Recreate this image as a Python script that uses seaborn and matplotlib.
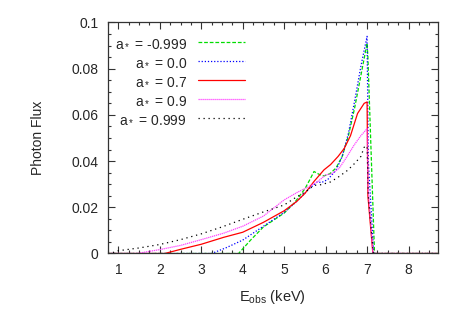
import numpy as np
import pandas as pd
import matplotlib
matplotlib.use('Agg')
import matplotlib.pyplot as plt
import seaborn as sns
from matplotlib.ticker import MultipleLocator

# spectra (E_obs in keV, photon flux)
e_m0999 = [0.75, 3.9, 4.2, 4.5, 4.75, 5.0, 5.25, 5.5, 5.62, 5.72, 5.85, 5.96, 6.1, 6.25, 6.4, 6.55, 6.7, 6.85, 7.0, 7.02, 7.18, 8.7]
f_m0999 = [0, 0, 0.006, 0.0115, 0.0145, 0.0175, 0.022, 0.028, 0.032, 0.0355, 0.0342, 0.0336, 0.0345, 0.037, 0.042, 0.051, 0.063, 0.077, 0.091, 0.085, 0, 0]

e_00 = [0.75, 3.25, 3.6, 4.0, 4.5, 5.0, 5.3, 5.6, 5.8, 5.9, 6.05, 6.25, 6.4, 6.55, 6.7, 6.85, 7.0, 7.03, 7.16, 8.7]
f_00 = [0, 0, 0.0025, 0.0058, 0.0118, 0.0178, 0.0225, 0.028, 0.031, 0.0307, 0.032, 0.036, 0.042, 0.052, 0.066, 0.081, 0.094, 0.04, 0, 0]

e_07 = [0.75, 2.12, 2.5, 3.0, 3.54, 4.0, 4.5, 5.0, 5.3, 5.5, 5.72, 5.96, 6.12, 6.3, 6.45, 6.6, 6.77, 6.93, 7.0, 7.02, 7.14, 8.7]
f_07 = [0, 0, 0.0018, 0.004, 0.007, 0.0092, 0.0135, 0.0185, 0.0225, 0.026, 0.0312, 0.0362, 0.0385, 0.042, 0.0455, 0.051, 0.0606, 0.065, 0.0656, 0.025, 0, 0]

e_09 = [0.75, 1.45, 2.0, 2.5, 3.0, 3.54, 4.0, 4.5, 5.0, 5.32, 5.6, 5.8, 6.0, 6.15, 6.33, 6.5, 6.69, 6.85, 7.0, 7.02, 7.14, 8.7]
f_09 = [0, 0, 0.0017, 0.0035, 0.006, 0.0088, 0.0118, 0.0162, 0.0232, 0.0265, 0.029, 0.031, 0.034, 0.0345, 0.037, 0.0415, 0.047, 0.051, 0.054, 0.03, 0, 0]

e_0999 = [0.75, 0.85, 1.0, 1.5, 2.0, 2.5, 3.0, 3.5, 4.0, 4.5, 5.0, 5.3, 5.5, 5.72, 5.9, 6.12, 6.3, 6.53, 6.7, 6.85, 6.93, 7.0, 7.03, 7.15, 8.7]
f_0999 = [0, 0.0003, 0.0012, 0.0024, 0.0039, 0.006, 0.0085, 0.0115, 0.0148, 0.018, 0.021, 0.0245, 0.0265, 0.0295, 0.0298, 0.031, 0.033, 0.036, 0.039, 0.042, 0.046, 0.0465, 0.025, 0, 0]

labels = ['a$_*$ = -0.999', 'a$_*$ = 0.0', 'a$_*$ = 0.7', 'a$_*$ = 0.9', 'a$_*$ = 0.999']
energies = [e_m0999, e_00, e_07, e_09, e_0999]
fluxes = [f_m0999, f_00, f_07, f_09, f_0999]
colors = ['#00dd00', '#0000ff', '#ff0000', '#ff44ff', '#000000']
dashes = [(0, (3, 1.5)), (0, (1, 1.5)), '-', (0, (1, 0.6)), (0, (1, 3))]

sns.set_style('ticks')
plt.rcParams['font.family'] = ['Liberation Sans', 'DejaVu Sans']
plt.rcParams['mathtext.fontset'] = 'custom'
plt.rcParams['mathtext.rm'] = 'Liberation Sans'
plt.rcParams['mathtext.default'] = 'rm'

fig = plt.figure(figsize=(4.63, 3.24), dpi=100)
ax = fig.add_axes([0.2333, 0.2176, 0.7117, 0.713])

for e, f, lab, c, ls in zip(energies, fluxes, labels, colors, dashes):
    df = pd.DataFrame({'E': e, 'flux': f})
    sns.lineplot(data=df, x='E', y='flux', ax=ax, color=c, linestyle=ls,
                 linewidth=0.9, label=lab, estimator=None, sort=False)

ax.set_xlim(0.75, 8.7)
ax.set_ylim(0, 0.1)
ax.xaxis.set_major_locator(MultipleLocator(1))
ax.xaxis.set_minor_locator(MultipleLocator(0.25))
ax.yaxis.set_major_locator(MultipleLocator(0.02))
ax.yaxis.set_minor_locator(MultipleLocator(0.005))
ax.set_yticks([0, 0.02, 0.04, 0.06, 0.08, 0.1])
ax.set_yticklabels(['0', '0.02', '0.04', '0.06', '0.08', '0.1'])
ax.tick_params(which='both', direction='in', top=True, right=True, labelsize=10, width=0.8, color='#333333')
ax.tick_params(which='major', length=5, pad=7)
ax.tick_params(which='minor', length=2.5)
for s in ax.spines.values():
    s.set_linewidth(0.9)
    s.set_color('#333333')

ax.set_xlabel('E$_{obs}$ (keV)', fontsize=10.5, labelpad=8)
ax.set_ylabel('Photon Flux', fontsize=10, labelpad=19)

ax.legend(loc='upper right', bbox_to_anchor=(0.438, 0.97), frameon=False, markerfirst=False,
          borderpad=0, handlelength=3.4, handletextpad=0.8, labelspacing=0.36, fontsize=10)

fig.savefig('out.png', dpi=100)
